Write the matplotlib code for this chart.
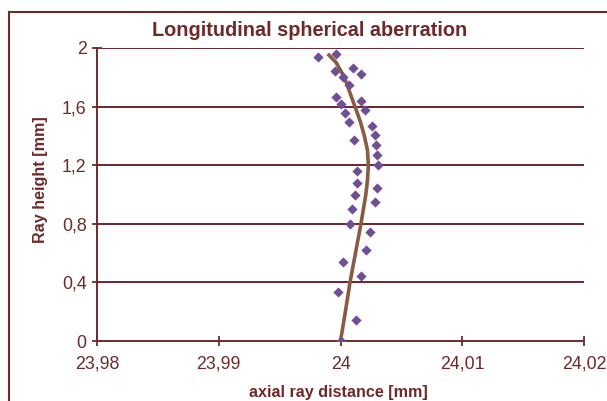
import matplotlib
matplotlib.use("Agg")
import matplotlib.pyplot as plt
from matplotlib.lines import Line2D
from matplotlib.ticker import FuncFormatter

# measured points (axial distance [mm], ray height [mm])
pts_x = [23.99813, 23.99961, 24.00105, 24.00166, 23.99955, 24.00018, 24.00070,
         23.99966, 24.00004, 24.00166, 24.00204, 24.00037, 24.00067, 24.00261,
         24.00281, 24.00111, 24.00292, 24.00302, 24.00310, 24.00133, 24.00133,
         24.00302, 24.00122, 24.00283, 24.00097, 24.00078, 24.00240, 24.00209,
         24.00018, 24.00166, 23.99977, 24.00130, 24.00000]
pts_y = [1.937, 1.957, 1.863, 1.820, 1.843, 1.802, 1.747,
         1.666, 1.618, 1.640, 1.579, 1.554, 1.493, 1.468,
         1.406, 1.374, 1.336, 1.270, 1.201, 1.159, 1.081,
         1.043, 0.997, 0.951, 0.899, 0.799, 0.746, 0.619,
         0.541, 0.446, 0.337, 0.145, 0.000]

# fitted curve
curve_y = [0.0, 0.2, 0.4, 0.6, 0.8, 1.0, 1.1, 1.2, 1.3, 1.4, 1.5, 1.6, 1.7, 1.8, 1.9, 1.96]
curve_x = [24.0, 24.0004, 24.00078, 24.00123, 24.00168, 24.00208, 24.00222, 24.00229,
           24.00222, 24.00196, 24.00162, 24.00119, 24.00075, 24.00032, 23.99965, 23.99895]

x_ticks = [23.98, 23.99, 24.0, 24.01, 24.02]
y_ticks = [0, 0.4, 0.8, 1.2, 1.6, 2.0]

maroon = '#6e2a2a'
grid_c = '#6e2430'
font = 'Liberation Sans'

fig = plt.figure(figsize=(6.07, 4.01), dpi=100)
W, H = 607, 401
ax = fig.add_axes([97 / W, 1 - 341 / H, (584 - 97) / W, (341 - 48) / H])

for yv in y_ticks[1:]:
    ax.axhline(yv, color=grid_c, lw=1.4, zorder=1)

ax.plot(curve_x, curve_y, color='#8a5a44', lw=2.6, zorder=3, solid_capstyle='butt')
ax.scatter(pts_x, pts_y, marker='D', s=27, color='#6f4e96', zorder=4, linewidths=0)

ax.set_xlim(23.98, 24.02)
ax.set_ylim(0, 2)
ax.set_xticks(x_ticks)
ax.set_yticks(y_ticks)

def fmt(v, pos):
    s = ('%.2f' % v).rstrip('0').rstrip('.')
    return s.replace('.', ',')

ax.xaxis.set_major_formatter(FuncFormatter(fmt))
ax.yaxis.set_major_formatter(FuncFormatter(fmt))

for sp in ['top', 'right']:
    ax.spines[sp].set_visible(False)
for sp in ['left', 'bottom']:
    ax.spines[sp].set_color(maroon)
    ax.spines[sp].set_linewidth(1.4)

ax.tick_params(axis='both', colors=maroon, labelcolor=maroon, labelsize=12.8,
               direction='inout', length=7, width=1.3)
ax.tick_params(axis='x', pad=7)
ax.tick_params(axis='y', pad=4)
for lab in ax.get_xticklabels() + ax.get_yticklabels():
    lab.set_fontfamily(font)
ax.set_facecolor('white')

fig.text(310 / W, 1 - 30 / H, 'Longitudinal spherical aberration', ha='center', va='center',
         fontsize=14.3, fontweight='bold', color=maroon, family=font)
fig.text(338 / W, 1 - 392 / H, 'axial ray distance [mm]', ha='center', va='center',
         fontsize=11.6, fontweight='bold', color=maroon, family=font)
fig.text(40 / W, 1 - 180 / H, 'Ray height [mm]', ha='center', va='center', rotation=90,
         fontsize=11.6, fontweight='bold', color=maroon, family=font)

# outer frame (left and top edges visible)
fig.add_artist(Line2D([8.5 / W, 8.5 / W], [0, 1 - 11.5 / H], color=maroon, lw=1.5, transform=fig.transFigure))
fig.add_artist(Line2D([8.5 / W, 1], [1 - 11.5 / H, 1 - 11.5 / H], color=maroon, lw=1.5, transform=fig.transFigure))

fig.savefig('out.png', dpi=100)
